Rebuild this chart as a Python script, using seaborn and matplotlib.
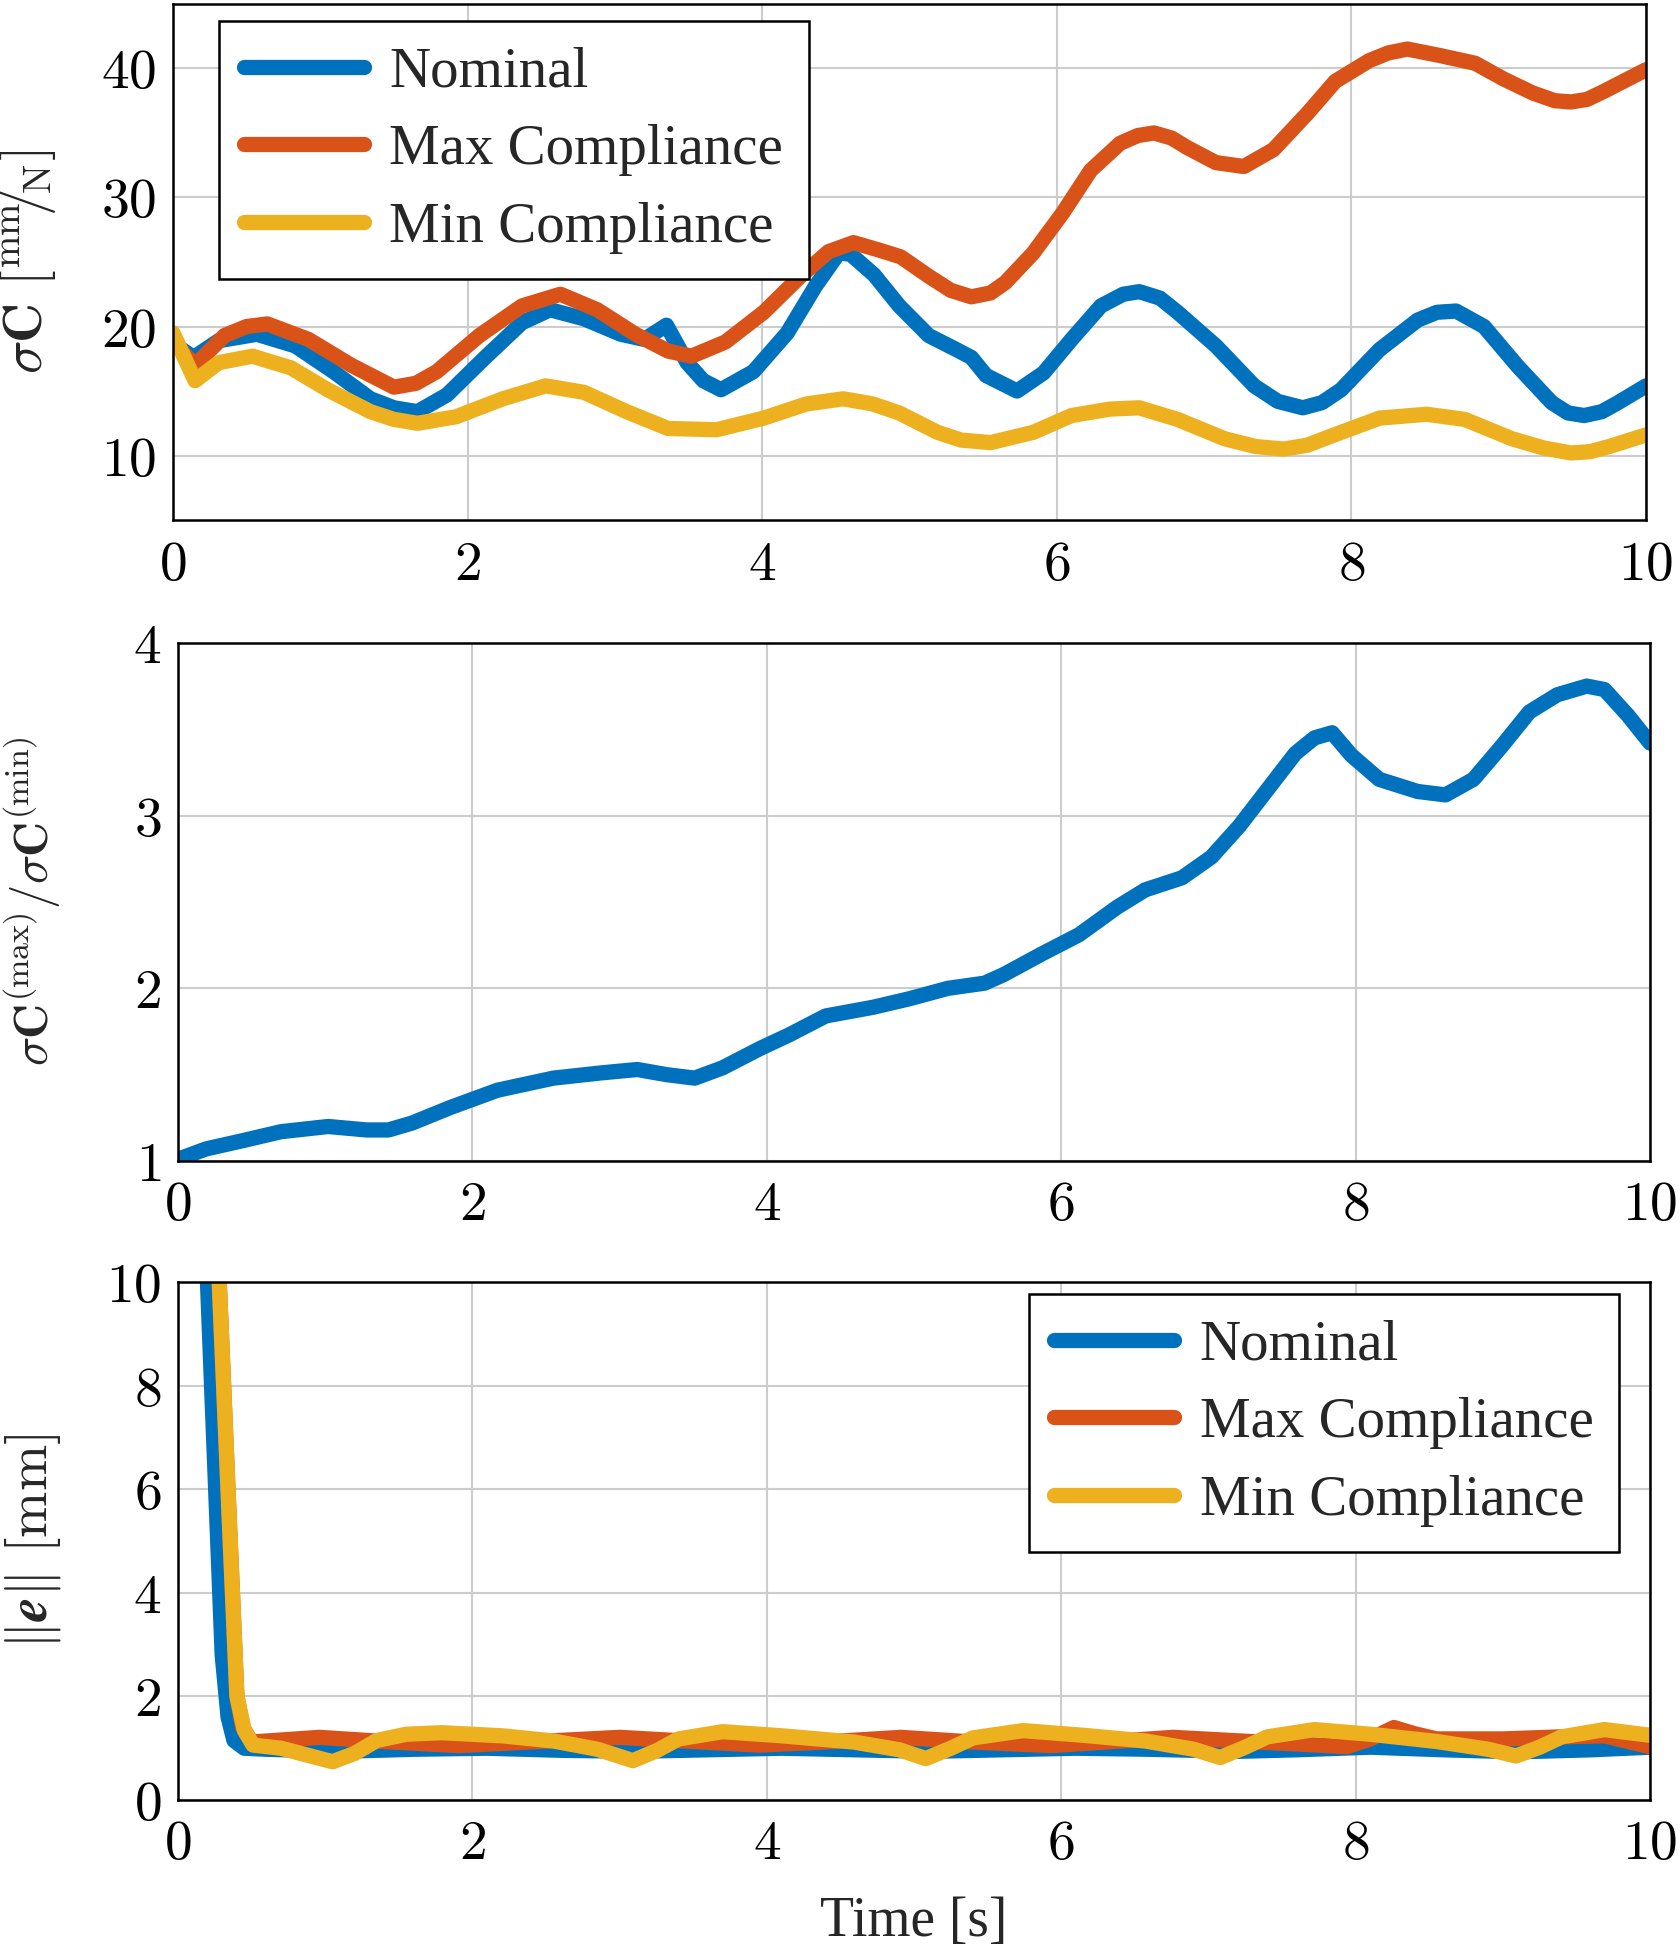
import pandas as pd
import matplotlib
matplotlib.use("Agg")
import matplotlib.pyplot as plt
import seaborn as sns

SERIES = ["Nominal", "Max Compliance", "Min Compliance"]
COLORS = ["#0072BD", "#D95319", "#EDB120"]

# --- panel 1: sigma_C [mm/N] ---
nom_sig_t = [0.00, 0.14, 0.31, 0.57, 0.83, 1.09, 1.34, 1.50, 1.66, 1.86, 2.11, 2.37, 2.56, 2.79,
             3.04, 3.20, 3.35, 3.49, 3.60, 3.72, 3.94, 4.17, 4.36, 4.52, 4.60, 4.76, 4.93, 5.13,
             5.32, 5.42, 5.52, 5.73, 5.91, 6.10, 6.30, 6.45, 6.56, 6.70, 6.82, 7.08, 7.34, 7.50,
             7.67, 7.80, 7.93, 8.19, 8.45, 8.58, 8.71, 8.90, 9.13, 9.36, 9.47, 9.58, 9.70, 9.81,
             10.0]
nom_sig_v = [18.7, 17.6, 18.9, 19.4, 18.5, 16.5, 14.4, 13.7, 13.4, 14.7, 17.5, 20.3, 21.3, 20.6,
             19.4, 19.0, 20.1, 17.2, 15.8, 15.1, 16.5, 19.5, 23.1, 25.7, 25.6, 24.0, 21.6, 19.3,
             18.2, 17.6, 16.2, 15.0, 16.4, 19.0, 21.6, 22.5, 22.7, 22.2, 21.1, 18.5, 15.4, 14.2,
             13.7, 14.1, 15.1, 18.2, 20.5, 21.1, 21.2, 20.0, 16.9, 14.1, 13.3, 13.1, 13.4, 14.1,
             15.4]

max_sig_t = [0.00, 0.15, 0.35, 0.50, 0.64, 0.92, 1.21, 1.50, 1.65, 1.79, 2.08, 2.37, 2.63, 2.88,
             3.14, 3.36, 3.52, 3.75, 4.01, 4.26, 4.45, 4.62, 4.80, 4.94, 5.13, 5.28, 5.42, 5.55,
             5.65, 5.84, 6.04, 6.23, 6.43, 6.55, 6.66, 6.78, 6.88, 7.08, 7.27, 7.47, 7.70, 7.89,
             8.12, 8.25, 8.38, 8.60, 8.84, 9.03, 9.23, 9.38, 9.49, 9.60, 9.71, 10.0]
max_sig_v = [18.8, 17.0, 19.3, 20.0, 20.2, 19.0, 17.0, 15.3, 15.6, 16.5, 19.3, 21.6, 22.5, 21.3,
             19.4, 18.1, 17.7, 18.8, 21.1, 23.9, 25.8, 26.5, 25.9, 25.4, 23.9, 22.8, 22.3, 22.6,
             23.4, 25.7, 28.8, 32.1, 34.2, 34.8, 35.0, 34.6, 33.9, 32.7, 32.4, 33.7, 36.5, 39.0,
             40.6, 41.2, 41.5, 41.0, 40.4, 39.2, 38.1, 37.5, 37.4, 37.6, 38.2, 39.9]

min_sig_t = [0.00, 0.15, 0.31, 0.54, 0.80, 1.05, 1.34, 1.50, 1.66, 1.92, 2.24, 2.53, 2.79, 3.08,
             3.36, 3.69, 4.01, 4.30, 4.55, 4.75, 4.93, 5.19, 5.35, 5.55, 5.84, 6.10, 6.36, 6.56,
             6.82, 7.14, 7.35, 7.54, 7.70, 7.86, 8.19, 8.51, 8.77, 9.09, 9.30, 9.49, 9.62, 9.75,
             10.0]
min_sig_v = [19.5, 15.8, 17.2, 17.7, 16.8, 15.1, 13.4, 12.8, 12.5, 13.0, 14.4, 15.4, 14.9, 13.4,
             12.1, 12.0, 12.9, 14.0, 14.4, 14.0, 13.3, 11.8, 11.2, 11.0, 11.8, 13.1, 13.6, 13.7,
             12.8, 11.3, 10.7, 10.5, 10.8, 11.5, 12.9, 13.2, 12.8, 11.3, 10.6, 10.2, 10.3, 10.7,
             11.6]

# --- panel 2: ratio sigma_C(max) / sigma_C(min) ---
ratio_t = [0.00, 0.19, 0.45, 0.70, 1.02, 1.28, 1.43, 1.59, 1.85, 2.17, 2.55, 2.87, 3.12, 3.32,
           3.51, 3.70, 3.95, 4.15, 4.40, 4.72, 4.97, 5.23, 5.48, 5.61, 5.87, 6.12, 6.38, 6.57,
           6.82, 7.02, 7.21, 7.40, 7.59, 7.72, 7.84, 7.97, 8.16, 8.42, 8.61, 8.80, 8.99, 9.18,
           9.37, 9.57, 9.69, 9.85, 10.0]
ratio_v = [1.01, 1.07, 1.12, 1.17, 1.20, 1.18, 1.18, 1.22, 1.31, 1.41, 1.48, 1.51, 1.53, 1.50,
           1.48, 1.54, 1.65, 1.73, 1.84, 1.89, 1.94, 2.00, 2.03, 2.08, 2.20, 2.31, 2.47, 2.57,
           2.64, 2.76, 2.94, 3.15, 3.36, 3.45, 3.48, 3.35, 3.21, 3.14, 3.12, 3.21, 3.40, 3.60,
           3.70, 3.75, 3.73, 3.58, 3.42]

# --- panel 3: tracking error ||e|| [mm] ---
nom_err_t = [0.00, 0.10, 0.20, 0.25, 0.30, 0.34, 0.38, 0.45, 0.60, 1.10, 1.60, 2.10, 2.60, 3.10,
             3.60, 4.10, 4.60, 5.10, 5.60, 6.10, 6.60, 7.20, 7.60, 8.10, 8.60, 9.10, 9.60, 10.0]
nom_err_v = [24.0, 17.0, 10.0, 6.4, 2.8, 1.6, 1.15, 1.00, 0.98, 0.94, 0.98, 1.00, 0.96, 0.94,
             0.97, 1.00, 0.97, 0.94, 0.97, 1.00, 0.98, 0.94, 0.97, 1.02, 0.97, 0.93, 0.97, 1.02]

max_err_t = [0.00, 0.10, 0.20, 0.28, 0.35, 0.40, 0.44, 0.50, 0.96, 1.45, 1.91, 2.45, 3.00, 3.50,
             3.95, 4.45, 4.91, 5.40, 5.93, 6.35, 6.76, 7.35, 7.94, 8.10, 8.26, 8.40, 8.55, 9.00,
             9.40, 9.69, 10.0]
max_err_v = [28.7, 22.0, 15.4, 10.0, 5.3, 2.0, 1.4, 1.12, 1.21, 1.12, 1.05, 1.13, 1.21, 1.13,
             1.06, 1.13, 1.21, 1.12, 1.05, 1.13, 1.21, 1.12, 1.03, 1.18, 1.40, 1.28, 1.18, 1.18,
             1.22, 1.24, 1.03]

min_err_t = [0.00, 0.10, 0.20, 0.28, 0.35, 0.40, 0.45, 0.51, 0.70, 0.90, 1.05, 1.20, 1.35, 1.55,
             1.79, 2.20, 2.55, 2.85, 3.09, 3.25, 3.40, 3.70, 4.10, 4.59, 4.90, 5.08, 5.25, 5.40,
             5.74, 6.15, 6.57, 6.90, 7.08, 7.25, 7.40, 7.72, 8.10, 8.55, 8.90, 9.09, 9.25, 9.40,
             9.69, 10.0]
min_err_v = [28.7, 22.0, 15.4, 10.0, 5.3, 2.0, 1.35, 1.06, 1.00, 0.85, 0.74, 0.90, 1.15, 1.27,
             1.30, 1.24, 1.14, 0.98, 0.76, 0.95, 1.18, 1.32, 1.24, 1.12, 0.97, 0.80, 1.00, 1.20,
             1.34, 1.25, 1.14, 0.98, 0.82, 1.02, 1.22, 1.36, 1.27, 1.13, 0.98, 0.85, 1.02, 1.22,
             1.36, 1.25]


def long_frame(parts):
    frames = [pd.DataFrame({"t": t, "v": v, "series": name}) for name, t, v in parts]
    return pd.concat(frames, ignore_index=True)


sig_df = long_frame([("Nominal", nom_sig_t, nom_sig_v),
                     ("Max Compliance", max_sig_t, max_sig_v),
                     ("Min Compliance", min_sig_t, min_sig_v)])
ratio_df = pd.DataFrame({"t": ratio_t, "v": ratio_v})
err_df = long_frame([("Nominal", nom_err_t, nom_err_v),
                     ("Max Compliance", max_err_t, max_err_v),
                     ("Min Compliance", min_err_t, min_err_v)])

sns.set_style("whitegrid")
plt.rcParams["font.family"] = ["Liberation Serif", "DejaVu Serif"]
plt.rcParams["mathtext.fontset"] = "cm"

FS = 40
LW = 11

fig = plt.figure(figsize=(16.81, 19.5), dpi=100)
ax1 = fig.add_axes([0.1029, 0.7333, 0.8763, 0.2647])
ax2 = fig.add_axes([0.1059, 0.4046, 0.8757, 0.2657])
ax3 = fig.add_axes([0.1059, 0.0769, 0.8757, 0.2657])

sns.lineplot(data=sig_df, x="t", y="v", hue="series", hue_order=SERIES, palette=COLORS,
             linewidth=LW, estimator=None, sort=False, legend=False, ax=ax1)
sns.lineplot(data=ratio_df, x="t", y="v", color=COLORS[0], linewidth=LW,
             estimator=None, sort=False, ax=ax2)
sns.lineplot(data=err_df, x="t", y="v", hue="series", hue_order=SERIES, palette=COLORS,
             linewidth=LW, estimator=None, sort=False, legend=False, ax=ax3)


def style_axes(ax, yticks, ylim):
    ax.set_xlim(0, 10)
    ax.set_ylim(*ylim)
    xt = [0, 2, 4, 6, 8, 10]
    ax.set_xticks(xt)
    ax.set_xticklabels([f"${v}$" for v in xt], fontsize=FS)
    ax.set_yticks(yticks)
    ax.set_yticklabels([f"${v}$" for v in yticks], fontsize=FS)
    ax.tick_params(axis="both", length=0, colors="black")
    ax.tick_params(axis="x", pad=14)
    ax.tick_params(axis="y", pad=12)
    ax.grid(True, color="#cccccc", linewidth=1.5)
    for sp in ax.spines.values():
        sp.set_color("black")
        sp.set_linewidth(1.8)
        sp.set_visible(True)
    ax.set_xlabel("")
    ax.set_facecolor("white")
    for ln in ax.get_lines():
        ln.set_solid_joinstyle("round")


style_axes(ax1, [10, 20, 30, 40], (5, 45))
style_axes(ax2, [1, 2, 3, 4], (1, 4))
style_axes(ax3, [0, 2, 4, 6, 8, 10], (0, 10))

ax1.set_ylabel(r"$\sigma\mathbf{C}\ \left[{}^{\mathrm{mm}}\!\!/\!{}_{\mathrm{N}}\right]$", fontsize=FS)
ax2.set_ylabel(r"$\sigma\mathbf{C}^{(\mathrm{max})}/\sigma\mathbf{C}^{(\mathrm{min})}$", fontsize=35)
ax3.set_ylabel(r"$\Vert\mathbfit{e}\Vert\ [\mathrm{mm}]$", fontsize=FS)
ax1.yaxis.set_label_coords(-0.078, 0.5)
ax2.yaxis.set_label_coords(-0.078, 0.5)
ax3.yaxis.set_label_coords(-0.078, 0.5)
ax3.set_xlabel("Time [s]", fontsize=FS)
ax3.xaxis.set_label_coords(0.5, -0.185)

leg_kw = dict(fontsize=41, frameon=True, fancybox=False, edgecolor="black", framealpha=1,
              handlelength=2.1, handletextpad=0.45, labelspacing=0.45, borderpad=0.45,
              borderaxespad=0)
l1 = ax1.legend(ax1.get_lines()[:3], SERIES, loc="upper left",
                bbox_to_anchor=(0.031, 0.967), **leg_kw)
l3 = ax3.legend(ax3.get_lines()[:3], SERIES, loc="upper right",
                bbox_to_anchor=(0.979, 0.977), **leg_kw)
for leg in (l1, l3):
    leg.get_frame().set_linewidth(1.8)

fig.savefig("out.png", dpi=100)
